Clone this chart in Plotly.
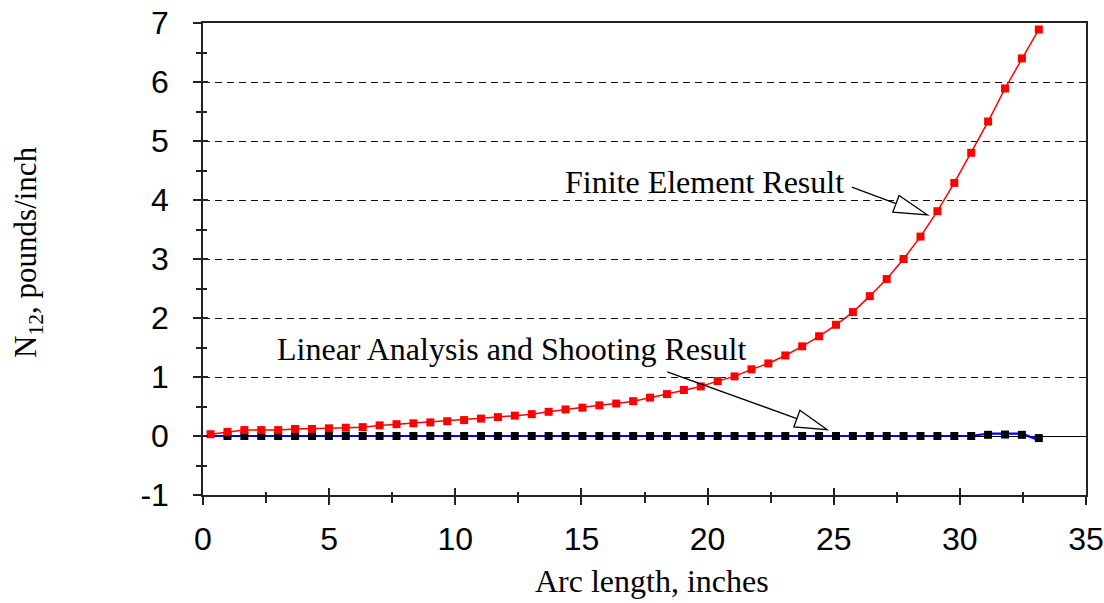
import plotly.graph_objects as go

# ---- data ----
arc_length = [0.30, 0.97, 1.64, 2.31, 2.98, 3.65, 4.32, 4.99, 5.66, 6.33,
              7.00, 7.67, 8.34, 9.01, 9.68, 10.35, 11.02, 11.69, 12.36, 13.03,
              13.70, 14.37, 15.04, 15.71, 16.38, 17.05, 17.72, 18.39, 19.06, 19.73,
              20.40, 21.07, 21.74, 22.41, 23.08, 23.75, 24.42, 25.09, 25.76, 26.43,
              27.10, 27.77, 28.44, 29.11, 29.78, 30.45, 31.12, 31.79, 32.46, 33.13]

finite_element = [0.03, 0.07, 0.10, 0.10, 0.10, 0.12, 0.12, 0.13, 0.14, 0.15,
                  0.18, 0.20, 0.215, 0.23, 0.25, 0.27, 0.295, 0.32, 0.345, 0.37,
                  0.41, 0.45, 0.48, 0.52, 0.55, 0.59, 0.65, 0.71, 0.78, 0.84,
                  0.93, 1.01, 1.13, 1.23, 1.365, 1.52, 1.69, 1.885, 2.10, 2.37,
                  2.66, 3.00, 3.38, 3.81, 4.29, 4.80, 5.33, 5.89, 6.40, 6.89]

linear_analysis = [0.0, 0.0, 0.0, 0.0, 0.0, 0.0, 0.0, 0.0, 0.0, 0.0,
                   0.0, 0.0, 0.0, 0.0, 0.0, 0.0, 0.0, 0.0, 0.0, 0.0,
                   0.0, 0.0, 0.0, 0.0, 0.0, 0.0, 0.0, 0.0, 0.0, 0.0,
                   0.0, 0.0, 0.0, 0.0, 0.0, 0.0, 0.0, 0.0, 0.0, 0.0,
                   0.0, 0.0, -0.01, -0.01, 0.0, 0.0, 0.04, 0.045, 0.04, -0.07]

shooting_x = arc_length[1:]
shooting = [0.0, 0.0, 0.0, 0.0, 0.0, 0.0, 0.0, 0.0, 0.0,
            0.0, 0.0, 0.0, 0.0, 0.0, 0.0, 0.0, 0.0, 0.0, 0.0,
            0.0, 0.0, 0.0, 0.0, 0.0, 0.0, 0.0, 0.0, 0.0, 0.0,
            0.0, 0.0, 0.0, 0.0, 0.0, 0.0, 0.0, 0.0, 0.0, 0.0,
            0.0, 0.0, 0.0, 0.0, 0.0, 0.0, 0.02, 0.025, 0.02, -0.035]

x_ticks = [0, 5, 10, 15, 20, 25, 30, 35]
x_tick_text = ["0", "5", "10", "15", "20", "25", "30", "35"]
y_ticks = [-1, 0, 1, 2, 3, 4, 5, 6, 7]
y_tick_text = ["-1", "0", "1", "2", "3", "4", "5", "6", "7"]

SERIF = "Liberation Serif, Times New Roman, serif"
SANS = "Liberation Sans, Arial, sans-serif"
AX = "#222222"
TXT = 32

fig = go.Figure()
fig.add_trace(go.Scatter(x=arc_length, y=linear_analysis, mode="lines",
                         line=dict(color="#0000FF", width=2.2),
                         name="Linear Analysis"))
fig.add_trace(go.Scatter(x=shooting_x, y=shooting, mode="markers",
                         marker=dict(symbol="square", size=8, color="black"),
                         name="Shooting"))
fig.add_trace(go.Scatter(x=arc_length, y=finite_element, mode="lines+markers",
                         line=dict(color="#FF0000", width=1.5),
                         marker=dict(symbol="square", size=8, color="#FF0000"),
                         name="Finite Element"))
# empty trace to create overlay axes for the inner half of crossing ticks
fig.add_trace(go.Scatter(x=[], y=[], xaxis="x2", yaxis="y2", showlegend=False))

fig.update_layout(
    width=1104, height=603,
    margin=dict(l=203, r=18, t=23, b=108, autoexpand=False),
    paper_bgcolor="white", plot_bgcolor="white",
    showlegend=False,
    xaxis=dict(range=[0, 35], tickvals=x_ticks, ticktext=x_tick_text,
               automargin=False, ticklabeloverflow="allow",
               ticks="outside", ticklen=8, tickwidth=1.5, tickcolor=AX,
               minor=dict(ticks="outside", ticklen=6, tickwidth=1.5, tickcolor=AX,
                          tick0=0, dtick=2.5),
               showline=True, linecolor=AX, linewidth=1.5, mirror=True,
               showgrid=False, zeroline=False,
               tickfont=dict(family=SANS, size=32, color="black"),
               ticklabelstandoff=7),
    yaxis=dict(range=[-1, 7], tickvals=y_ticks, ticktext=y_tick_text,
               automargin=False, ticklabeloverflow="allow",
               ticks="outside", ticklen=8, tickwidth=1.5, tickcolor=AX,
               minor=dict(ticks="outside", ticklen=5, tickwidth=1.5, tickcolor=AX,
                          tick0=0, dtick=0.5),
               showline=True, linecolor=AX, linewidth=1.5, mirror=True,
               showgrid=True, gridcolor="#111111", gridwidth=1, griddash="7px,5px",
               zeroline=True, zerolinecolor="black", zerolinewidth=1.2,
               tickfont=dict(family=SANS, size=32, color="black"),
               ticklabelstandoff=18),
    xaxis2=dict(range=[0, 35], overlaying="x", anchor="y2", tickvals=x_ticks,
                automargin=False,
                ticks="inside", ticklen=7, tickwidth=1.5, tickcolor=AX,
                minor=dict(ticks="inside", ticklen=3, tickwidth=1.5, tickcolor=AX,
                           tick0=0, dtick=2.5),
                showticklabels=False, showgrid=False, zeroline=False, showline=False),
    yaxis2=dict(range=[-1, 7], overlaying="y", anchor="x2", tickvals=y_ticks,
                automargin=False,
                ticks="inside", ticklen=5, tickwidth=1.5, tickcolor=AX,
                minor=dict(ticks="inside", ticklen=4, tickwidth=1.5, tickcolor=AX,
                           tick0=0, dtick=0.5),
                showticklabels=False, showgrid=False, zeroline=False, showline=False),
)

# axis titles
fig.add_annotation(text="N<sub>12</sub>, pounds/inch", xref="paper", yref="paper",
                   x=0, y=0.5, xanchor="center", yanchor="middle",
                   xshift=-175, yshift=7, textangle=-90, showarrow=False,
                   font=dict(family=SERIF, size=31, color="black"))
fig.add_annotation(text="Arc length, inches", xref="paper", yref="paper",
                   x=0.5, y=0, xanchor="center", yanchor="middle",
                   xshift=7, yshift=-86, showarrow=False,
                   font=dict(family=SERIF, size=TXT, color="black"))

# callout labels
fig.add_annotation(text="Finite Element Result", x=25.47, y=4.30, xref="x", yref="y",
                   xanchor="right", yanchor="middle", showarrow=False,
                   font=dict(family=SERIF, size=TXT, color="black"))
fig.add_annotation(text="Linear Analysis and Shooting Result", x=21.60, y=1.47,
                   xref="x", yref="y", xanchor="right", yanchor="middle",
                   showarrow=False, font=dict(family=SERIF, size=TXT, color="black"))

# callout arrows: line + open triangular head
fig.add_shape(type="line", x0=25.72, y0=4.22, x1=27.47, y1=3.94,
              xref="x", yref="y", line=dict(color="black", width=1.3))
fig.add_shape(type="path", xref="x", yref="y",
              path="M 28.72,3.747 L 27.59,4.078 L 27.34,3.793 Z",
              fillcolor="white", line=dict(color="black", width=1.3))
fig.add_shape(type="line", x0=18.40, y0=1.087, x1=23.54, y1=0.295,
              xref="x", yref="y", line=dict(color="black", width=1.3))
fig.add_shape(type="path", xref="x", yref="y",
              path="M 24.73,0.109 L 23.66,0.436 L 23.42,0.153 Z",
              fillcolor="white", line=dict(color="black", width=1.3))

fig.write_html("out.html")
